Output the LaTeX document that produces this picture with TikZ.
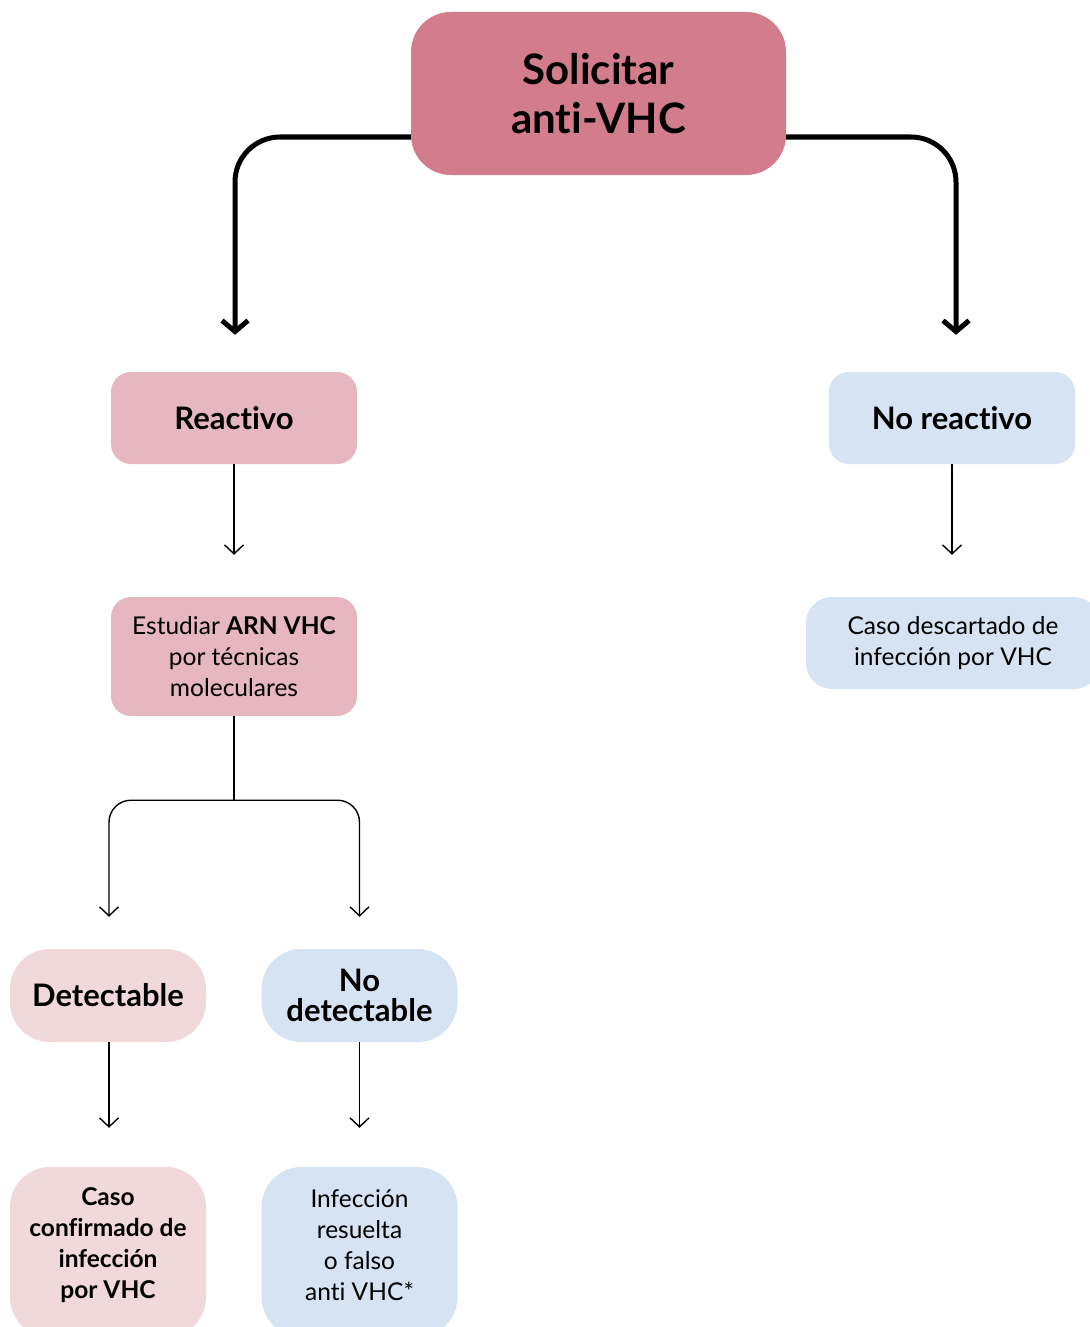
\documentclass[tikz,border=0pt]{standalone}
\usepackage{fontspec}
\setmainfont{Lato}[Ligatures={NoCommon,NoRequired,NoContextual}]
\usetikzlibrary{arrows.meta,backgrounds}
\definecolor{pinkdark}{HTML}{D37C8B}
\definecolor{pinkmid}{HTML}{E6B7C0}
\definecolor{pinklight}{HTML}{F0D8DB}
\definecolor{bluelight}{HTML}{D5E3F3}
\begin{document}
\begin{tikzpicture}[x=1pt,y=-1pt,
  box/.style={rectangle, rounded corners=#1, inner sep=0pt, align=center, text=black},
  bigfont/.style={font=\fontsize{42}{49}\selectfont\bfseries},
  midfont/.style={font=\fontsize{31}{30}\selectfont\bfseries},
  smallfont/.style={font=\fontsize{24.5}{31}\selectfont},
  smallbold/.style={font=\fontsize{24.5}{31}\selectfont\bfseries},
  thickarrow/.style={line width=5pt, rounded corners=45pt, -{Straight Barb[length=11pt,width=26pt,line width=5pt]}},
  thinarrow/.style={line width=1.4pt, rounded corners=22pt, -{Straight Barb[length=9pt,width=19pt,line width=1.4pt]}},
  thinline/.style={line width=1.4pt}]
\useasboundingbox (0,0) rectangle (1089,1327);

% request box
\node[box=40pt, fill=pinkdark, minimum width=375pt, minimum height=163pt, bigfont] (top) at (598.5,93.5) {Solicitar\\anti-VHC};

% first level
\node[box=20pt, fill=pinkmid, minimum width=246pt, minimum height=92pt, midfont] (react) at (234,418) {Reactivo};
\node[box=20pt, fill=bluelight, minimum width=246pt, minimum height=92pt, midfont] (nreact) at (952,418) {No reactivo};

% second level
\node[box=20pt, fill=pinkmid, minimum width=246pt, minimum height=119pt, smallfont] (study) at (234,656.5) {Estudiar \textbf{ARN VHC}\\por técnicas\\moleculares};
\node[box=26pt, fill=bluelight, minimum width=294pt, minimum height=92pt, smallfont] (discard) at (953,643) {Caso descartado de\\infección por VHC};

% molecular test results
\node[box=40pt, fill=pinklight, minimum width=196pt, minimum height=93pt, midfont] (det) at (108,995.5) {Detectable};
\node[box=40pt, fill=bluelight, minimum width=196pt, minimum height=93pt, midfont] (ndet) at (359.5,995.5) {No\\detectable};

% conclusions
\node[box=40pt, fill=pinklight, minimum width=196pt, minimum height=170pt, smallbold] (conf) at (108,1252) {};
\node[box=40pt, fill=bluelight, minimum width=196pt, minimum height=170pt, smallfont] (resolved) at (359.5,1252) {};
\node[align=center, inner sep=0pt, smallbold] (conftext) at (108,1245) {Caso\\confirmado de\\infección\\por VHC};
\node[align=center, inner sep=0pt, smallfont] (restext) at (359.5,1245) {Infección\\resuelta\\o falso\\anti VHC*};

% connectors
\begin{scope}[on background layer]
  \draw[thickarrow] ([yshift=-43.5pt]top.west) -| ([xshift=1pt,yshift=37pt]react.north);
  \draw[thickarrow] ([yshift=-43.5pt]top.east) -| ([xshift=4pt,yshift=37pt]nreact.north);
\end{scope}
\draw[thinarrow] (react.south) -- ([yshift=42pt]study.north);
\draw[thinarrow] (nreact.south) -- ([yshift=42pt,xshift=-1pt]discard.north);
\coordinate (split) at ([yshift=-84pt]study.south);
\draw[thinline] (study.south) -- (split);
\draw[thinarrow] (split) -| ([xshift=1pt,yshift=32pt]det.north);
\draw[thinarrow] (split) -| ([yshift=32pt]ndet.north);
\draw[thinarrow] ([xshift=1pt]det.south) -- ([xshift=1pt,yshift=39pt]conf.north);
\draw[thinarrow] (ndet.south) -- ([yshift=39pt]resolved.north);
\end{tikzpicture}
\end{document}
